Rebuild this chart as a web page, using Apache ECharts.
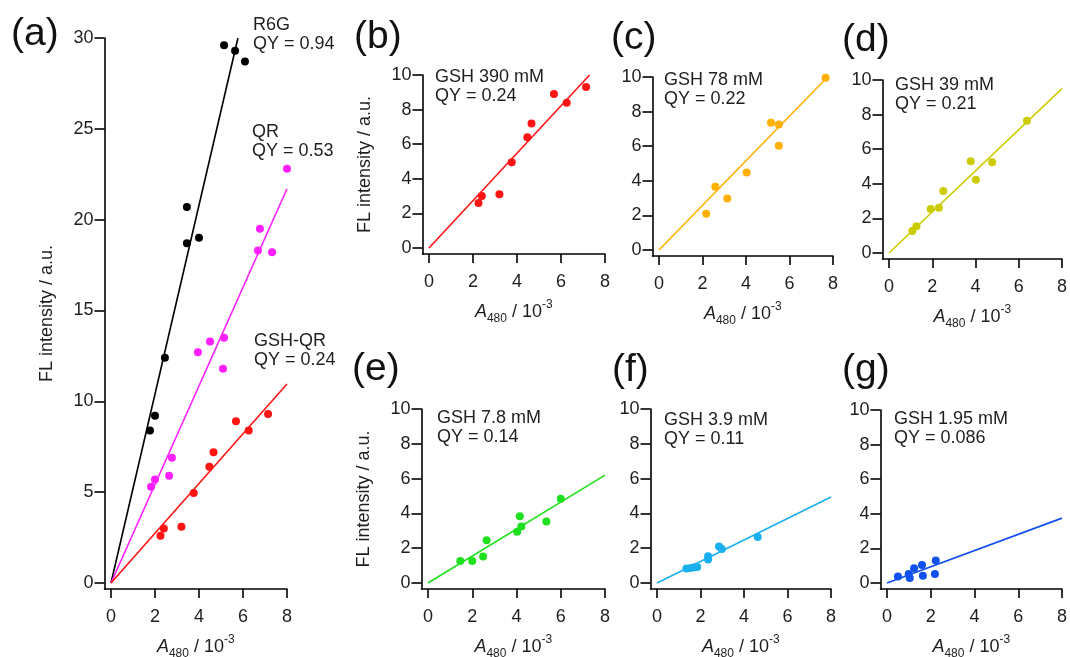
<!DOCTYPE html>
<html>
<head>
<meta charset="utf-8">
<script src="https://cdn.jsdelivr.net/npm/echarts@6/dist/echarts.min.js"></script>
<style>
html, body { margin: 0; padding: 0; background: #fff; }
#main { width: 1070px; height: 657px; }
</style>
</head>
<body>
<div id="main"></div>
<script>
var FONT = '"Liberation Sans", Arial, sans-serif';

// A480 (x, in 10^-3) and FL intensity (y, a.u.)
var r6gX = [1.77, 2.0, 2.45, 3.45, 3.45, 4.0, 5.14, 5.64, 6.09];
var r6gY = [8.4, 9.2, 12.4, 18.7, 20.7, 19.0, 29.6, 29.3, 28.7];
var qrX = [1.82, 2.0, 2.64, 2.77, 3.95, 4.5, 5.09, 5.14, 6.68, 6.77, 7.32, 8.0];
var qrY = [5.3, 5.7, 5.9, 6.9, 12.7, 13.3, 11.8, 13.5, 18.3, 19.5, 18.2, 22.8];
// GSH 390 mM (same points are GSH-QR in panel a)
var gsh390X = [2.25, 2.4, 3.2, 3.76, 4.47, 4.66, 5.68, 6.26, 7.14];
var gsh390Y = [2.6, 3.0, 3.1, 4.95, 6.4, 7.2, 8.9, 8.4, 9.3];
var gsh78X = [2.17, 2.59, 3.14, 4.03, 5.15, 5.51, 5.51, 7.66];
var gsh78Y = [2.1, 3.65, 2.98, 4.48, 7.35, 7.25, 6.02, 9.95];
var gsh39X = [1.08, 1.27, 1.93, 2.31, 2.51, 3.78, 4.02, 4.77, 6.38];
var gsh39Y = [1.27, 1.54, 2.54, 2.62, 3.58, 5.3, 4.23, 5.25, 7.65];
var gsh78mX = [1.46, 2.0, 2.49, 2.65, 4.03, 4.15, 4.22, 5.35, 6.0];
var gsh78mY = [1.26, 1.26, 1.53, 2.45, 2.95, 3.83, 3.25, 3.54, 4.84];
var gsh39mX = [1.35, 1.55, 1.72, 1.85, 2.35, 2.35, 2.85, 2.98, 4.63];
var gsh39mY = [0.83, 0.86, 0.9, 0.92, 1.54, 1.35, 2.1, 1.95, 2.65];
var gsh195X = [0.5, 0.99, 1.04, 1.24, 1.6, 1.64, 2.19, 2.23];
var gsh195Y = [0.38, 0.52, 0.29, 0.85, 1.04, 0.42, 0.52, 1.3];

// fit lines start at (0,0) and end here
var fitR6G = [5.77, 30];
var fitQR = [8, 21.7];
var fitGSHQR = [8, 10.95];
var fit390 = [7.3, 10];
var fit78 = [7.75, 10];
var fit39 = [8, 9.5];
var fit78m = [8, 6.2];
var fit39m = [8, 4.94];
var fit195 = [8, 3.75];

var xTicks = [0, 2, 4, 6, 8];
var yTicksA = [0, 5, 10, 15, 20, 25, 30];
var yTicksSmall = [0, 2, 4, 6, 8, 10];

// layout: box = [px of x=0, px of x=8, px of y=0, px of y=max]
var panels = [
  { tag: '(a)', tagAt: [11, 34], box: [111, 287, 583, 38], yMax: 30, yTicks: yTicksA, yTitle: true,
    sets: [
      { x: r6gX, y: r6gY, fit: fitR6G, color: '#000000' },
      { x: qrX, y: qrY, fit: fitQR, color: '#ff1fff' },
      { x: gsh390X, y: gsh390Y, fit: fitGSHQR, color: '#ff1414' }
    ],
    notes: [['R6G', 'QY = 0.94', 253, 25], ['QR', 'QY = 0.53', 252, 132], ['GSH-QR', 'QY = 0.24', 254, 341]] },
  { tag: '(b)', tagAt: [354, 37], box: [429, 605, 248, 75], yMax: 10, yTicks: yTicksSmall, yTitle: true,
    sets: [{ x: gsh390X, y: gsh390Y, fit: fit390, color: '#ff1414' }],
    notes: [['GSH 390 mM', 'QY = 0.24', 435, 77]] },
  { tag: '(c)', tagAt: [611, 38], box: [659, 833, 250, 77], yMax: 10, yTicks: yTicksSmall, yTitle: false,
    sets: [{ x: gsh78X, y: gsh78Y, fit: fit78, color: '#ffb000' }],
    notes: [['GSH 78 mM', 'QY = 0.22', 664, 80]] },
  { tag: '(d)', tagAt: [842, 40], box: [889, 1062, 253, 80], yMax: 10, yTicks: yTicksSmall, yTitle: false,
    sets: [{ x: gsh39X, y: gsh39Y, fit: fit39, color: '#cccc00' }],
    notes: [['GSH 39 mM', 'QY = 0.21', 895, 85]] },
  { tag: '(e)', tagAt: [352, 369], box: [428, 605, 583, 409], yMax: 10, yTicks: yTicksSmall, yTitle: true,
    sets: [{ x: gsh78mX, y: gsh78mY, fit: fit78m, color: '#1fe01f' }],
    notes: [['GSH 7.8 mM', 'QY = 0.14', 437, 418]] },
  { tag: '(f)', tagAt: [612, 370], box: [657, 831, 583, 409], yMax: 10, yTicks: yTicksSmall, yTitle: false,
    sets: [{ x: gsh39mX, y: gsh39mY, fit: fit39m, color: '#1ab0f0' }],
    notes: [['GSH 3.9 mM', 'QY = 0.11', 664, 420]] },
  { tag: '(g)', tagAt: [842, 370], box: [887, 1062, 583, 410], yMax: 10, yTicks: yTicksSmall, yTitle: false,
    sets: [{ x: gsh195X, y: gsh195Y, fit: fit195, color: '#1050ee' }],
    notes: [['GSH 1.95 mM', 'QY = 0.086', 894, 419]] }
];

var PAD_X = 6.5, PAD_Y = 6;
var axisStyle = { color: '#000', width: 1.6 };
var textColor = '#1e1e1e';

var grids = [], xAxes = [], yAxes = [], series = [], graphics = [];

panels.forEach(function (p, k) {
  var x0 = p.box[0], x8 = p.box[1], y0 = p.box[2], yTop = p.box[3];
  var ppx = (x8 - x0) / 8;
  var ppy = (y0 - yTop) / p.yMax;
  var left = x0 - PAD_X;
  grids.push({
    left: left, top: yTop, width: x8 - left, height: y0 + PAD_Y - yTop,
    containLabel: false, outerBoundsMode: 'none'
  });
  xAxes.push({
    gridIndex: k, type: 'value', min: -PAD_X / ppx, max: 8,
    axisLine: { show: true, onZero: false, lineStyle: axisStyle },
    axisTick: { show: true, length: 9, customValues: xTicks, lineStyle: axisStyle },
    axisLabel: { customValues: xTicks, margin: 19, fontSize: 18, fontFamily: FONT, color: textColor },
    splitLine: { show: false },
    name: '{it|A}{sub|480}{n| / 10}{sup|-3}',
    nameLocation: 'middle', nameGap: 45,
    nameTextStyle: {
      fontFamily: FONT, fontSize: 18, color: textColor,
      rich: {
        it: { fontFamily: FONT, fontSize: 18, fontStyle: 'italic', lineHeight: 26, color: textColor },
        sub: { fontFamily: FONT, fontSize: 12, lineHeight: 16, verticalAlign: 'bottom', color: textColor },
        n: { fontFamily: FONT, fontSize: 18, lineHeight: 26, color: textColor },
        sup: { fontFamily: FONT, fontSize: 12, lineHeight: 12, verticalAlign: 'top', color: textColor }
      }
    }
  });
  yAxes.push({
    gridIndex: k, type: 'value', min: -PAD_Y / ppy, max: p.yMax,
    axisLine: { show: true, onZero: false, lineStyle: axisStyle },
    axisTick: { show: true, length: 10, customValues: p.yTicks, lineStyle: axisStyle },
    axisLabel: { customValues: p.yTicks, margin: 11, fontSize: 18, fontFamily: FONT, color: textColor },
    splitLine: { show: false },
    name: p.yTitle ? 'FL intensity / a.u.' : '',
    nameLocation: 'middle', nameGap: 48,
    nameTextStyle: { fontFamily: FONT, fontSize: 18, color: textColor }
  });
  p.sets.forEach(function (s) {
    series.push({
      type: 'line', xAxisIndex: k, yAxisIndex: k,
      data: [[0, 0], s.fit], symbol: 'none', silent: true,
      lineStyle: { color: s.color, width: 1.6 }, z: 2
    });
    series.push({
      type: 'scatter', xAxisIndex: k, yAxisIndex: k,
      data: s.x.map(function (v, i) { return [v, s.y[i]]; }),
      symbolSize: 8, itemStyle: { color: s.color, opacity: 1 }, z: 3
    });
  });
  graphics.push({
    type: 'text', x: p.tagAt[0], y: p.tagAt[1],
    style: { text: p.tag, fontSize: 39, fontFamily: FONT, fill: '#111', verticalAlign: 'middle' }
  });
  p.notes.forEach(function (n) {
    graphics.push({
      type: 'text', x: n[2], y: n[3],
      style: { text: n[0], fontSize: 18, fontFamily: FONT, fill: textColor, verticalAlign: 'middle' }
    });
    graphics.push({
      type: 'text', x: n[2], y: n[3] + 19,
      style: { text: n[1], fontSize: 18, fontFamily: FONT, fill: textColor, verticalAlign: 'middle' }
    });
  });
});

var chart = echarts.init(document.getElementById('main'), null, { renderer: 'canvas' });
chart.setOption({
  backgroundColor: '#ffffff',
  animation: false,
  grid: grids,
  xAxis: xAxes,
  yAxis: yAxes,
  series: series,
  graphic: graphics
});
</script>
</body>
</html>
